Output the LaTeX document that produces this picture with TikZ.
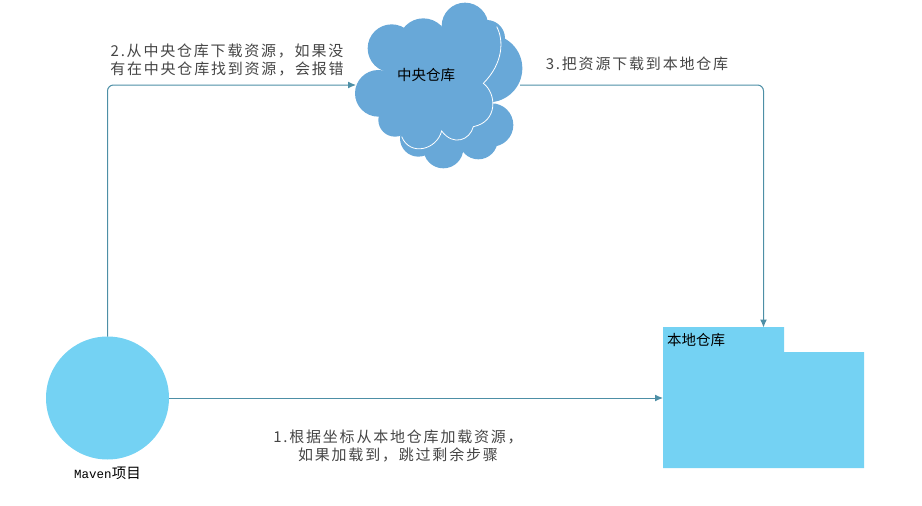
\documentclass[tikz,border=0pt]{standalone}
\usepackage{fontspec}
\setmainfont{Noto Sans CJK SC}
\newfontfamily\stepfont[LetterSpace=12]{Noto Sans CJK SC}
\newfontfamily\latinfont{Liberation Mono}
\usetikzlibrary{arrows.meta,positioning}

\definecolor{cloudblue}{HTML}{68A8D8}
\definecolor{skyblue}{HTML}{74D2F3}
\definecolor{flowteal}{HTML}{4D8FA6}
\definecolor{notegray}{HTML}{454545}

\newcommand{\widecomma}{\char"FF0C\relax}

\tikzset{
  flow/.style={draw=flowteal, line width=1pt, rounded corners=6pt, -{Latex[length=8pt,width=7pt]}},
  note/.style={text=notegray, align=center, font=\fontsize{15}{18.5}\stepfont},
  tag/.style={text=black, inner sep=0pt, font=\fontsize{14.5}{16}\selectfont},
  hollow/.style={inner sep=0pt, outer sep=0pt},
}

\begin{document}
\begin{tikzpicture}[x=1pt, y=-1pt]
      \useasboundingbox (0,0) rectangle (922,506);
      % cloud, read off the zoomed crop
      \begin{scope}[shift={(340,0)}, scale=1/3]
        \foreach \x/\y/\r in {445/205/102, 440/115/55, 455/375/65, 415/420/58, 310/445/60, 235/415/55, 350/350/100,
                              375/78/70, 155/145/72, 250/130/75, 115/280/70, 165/360/50, 245/390/60,
                              355/375/50, 395/315/65, 385/155/100, 280/240/150}
          \fill[cloudblue] (\x,\y) circle [radius=\r];
        \draw[white, line width=0.8pt] (470,80) .. controls (492,120) and (490,190) .. (430,250)
          .. controls (470,280) and (475,365) .. (400,380)
          .. controls (390,420) and (340,440) .. (305,393)
          .. controls (290,450) and (210,470) .. (185,410);
      \end{scope}
      % folder
      \fill[skyblue] (663,327) -- (784,327) -- (784,352) -- (864,352) -- (864,468) -- (663,468) -- cycle;

      \node (maven) [circle, fill=skyblue, hollow, minimum size=123pt] at (107.5,398) {};
      \node (central) [hollow, minimum width=164pt, minimum height=166pt] at (438,85) {};
      \node (local) [hollow, minimum width=201pt, minimum height=141pt] at (763.5,398) {};

      \node (mavenname) [tag, below=7pt of maven] {{\fontsize{12.5}{14}\latinfont Maven}项目};
      \node (centralname) [tag] at (426,75) {中央仓库};
      \node (localname) [tag, anchor=west] at (667,340) {本地仓库};

      \node (first) [note] at (398,446) {1.根据坐标从本地仓库加载资源\widecomma\\如果加载到\widecomma 跳过剩余步骤};
      \node (second) [note] at (227,60) {2.从中央仓库下载资源\widecomma 如果没\\有在中央仓库找到资源\widecomma 会报错};
      \node (third) [note] at (637,64) {3.把资源下载到本地仓库};

      \draw[flow] (maven.east) -- (local.west);
      \draw[flow] (maven.north) |- (central.west);
      \draw[flow] (central.east) -| (local.north);
\end{tikzpicture}
\end{document}
